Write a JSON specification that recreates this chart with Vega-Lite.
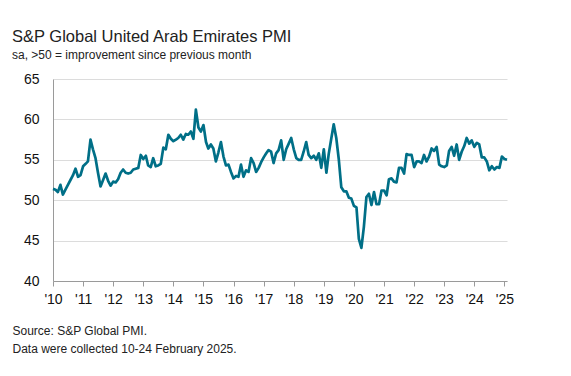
{
  "$schema": "https://vega.github.io/schema/vega-lite/v6.json",
  "autosize": "none",
  "width": 454,
  "height": 202,
  "padding": {"left": 53, "top": 79, "right": 64, "bottom": 95},
  "background": "white",
  "config": {
    "view": {"stroke": null},
    "font": "Liberation Sans",
    "title": {"anchor": "start", "frame": "group", "dx": -41, "fontSize": 16.5, "fontWeight": "normal", "color": "#222222", "subtitleFontSize": 12, "subtitleColor": "#222222", "subtitlePadding": 5, "offset": 11, "font": "Liberation Sans", "subtitleFont": "Liberation Sans"}
  },
  "title": {"text": "S&P Global United Arab Emirates PMI", "subtitle": "sa, >50 = improvement since previous month"},
  "data": {"values": [
    {"date":"2010-01-01","pmi":51.4},{"date":"2010-02-01","pmi":51.3},{"date":"2010-03-01","pmi":51.0},{"date":"2010-04-01","pmi":51.9},{"date":"2010-05-01","pmi":50.7},{"date":"2010-06-01","pmi":51.3},{"date":"2010-07-01","pmi":51.9},{"date":"2010-08-01","pmi":52.5},{"date":"2010-09-01","pmi":53.1},{"date":"2010-10-01","pmi":53.9},{"date":"2010-11-01","pmi":52.9},{"date":"2010-12-01","pmi":53.1},
    {"date":"2011-01-01","pmi":54.2},{"date":"2011-02-01","pmi":54.5},{"date":"2011-03-01","pmi":54.8},{"date":"2011-04-01","pmi":57.5},{"date":"2011-05-01","pmi":56.3},{"date":"2011-06-01","pmi":55.2},{"date":"2011-07-01","pmi":53.4},{"date":"2011-08-01","pmi":51.7},{"date":"2011-09-01","pmi":52.5},{"date":"2011-10-01","pmi":53.3},{"date":"2011-11-01","pmi":52.4},{"date":"2011-12-01","pmi":51.8},
    {"date":"2012-01-01","pmi":52.3},{"date":"2012-02-01","pmi":52.2},{"date":"2012-03-01","pmi":52.6},{"date":"2012-04-01","pmi":53.4},{"date":"2012-05-01","pmi":53.8},{"date":"2012-06-01","pmi":53.4},{"date":"2012-07-01","pmi":53.3},{"date":"2012-08-01","pmi":53.4},{"date":"2012-09-01","pmi":53.8},{"date":"2012-10-01","pmi":53.9},{"date":"2012-11-01","pmi":54.0},{"date":"2012-12-01","pmi":55.6},
    {"date":"2013-01-01","pmi":55.1},{"date":"2013-02-01","pmi":55.5},{"date":"2013-03-01","pmi":54.3},{"date":"2013-04-01","pmi":54.1},{"date":"2013-05-01","pmi":55.2},{"date":"2013-06-01","pmi":54.2},{"date":"2013-07-01","pmi":54.3},{"date":"2013-08-01","pmi":54.5},{"date":"2013-09-01","pmi":56.5},{"date":"2013-10-01","pmi":56.3},{"date":"2013-11-01","pmi":58.1},{"date":"2013-12-01","pmi":57.6},
    {"date":"2014-01-01","pmi":57.3},{"date":"2014-02-01","pmi":57.5},{"date":"2014-03-01","pmi":57.7},{"date":"2014-04-01","pmi":58.1},{"date":"2014-05-01","pmi":57.5},{"date":"2014-06-01","pmi":58.2},{"date":"2014-07-01","pmi":58.1},{"date":"2014-08-01","pmi":58.5},{"date":"2014-09-01","pmi":57.6},{"date":"2014-10-01","pmi":61.2},{"date":"2014-11-01","pmi":59.0},{"date":"2014-12-01","pmi":58.5},
    {"date":"2015-01-01","pmi":59.3},{"date":"2015-02-01","pmi":57.2},{"date":"2015-03-01","pmi":56.4},{"date":"2015-04-01","pmi":56.9},{"date":"2015-05-01","pmi":56.4},{"date":"2015-06-01","pmi":54.8},{"date":"2015-07-01","pmi":55.9},{"date":"2015-08-01","pmi":57.2},{"date":"2015-09-01","pmi":55.4},{"date":"2015-10-01","pmi":54.3},{"date":"2015-11-01","pmi":54.4},{"date":"2015-12-01","pmi":53.5},
    {"date":"2016-01-01","pmi":52.7},{"date":"2016-02-01","pmi":53.0},{"date":"2016-03-01","pmi":52.9},{"date":"2016-04-01","pmi":54.4},{"date":"2016-05-01","pmi":52.9},{"date":"2016-06-01","pmi":53.7},{"date":"2016-07-01","pmi":53.5},{"date":"2016-08-01","pmi":55.2},{"date":"2016-09-01","pmi":54.6},{"date":"2016-10-01","pmi":53.5},{"date":"2016-11-01","pmi":54.0},{"date":"2016-12-01","pmi":54.7},
    {"date":"2017-01-01","pmi":55.3},{"date":"2017-02-01","pmi":55.8},{"date":"2017-03-01","pmi":56.2},{"date":"2017-04-01","pmi":56.0},{"date":"2017-05-01","pmi":54.6},{"date":"2017-06-01","pmi":55.8},{"date":"2017-07-01","pmi":56.2},{"date":"2017-08-01","pmi":57.4},{"date":"2017-09-01","pmi":55.0},{"date":"2017-10-01","pmi":56.3},{"date":"2017-11-01","pmi":57.0},{"date":"2017-12-01","pmi":57.7},
    {"date":"2018-01-01","pmi":56.3},{"date":"2018-02-01","pmi":55.2},{"date":"2018-03-01","pmi":55.0},{"date":"2018-04-01","pmi":55.0},{"date":"2018-05-01","pmi":56.0},{"date":"2018-06-01","pmi":57.2},{"date":"2018-07-01","pmi":55.6},{"date":"2018-08-01","pmi":55.2},{"date":"2018-09-01","pmi":55.5},{"date":"2018-10-01","pmi":55.0},{"date":"2018-11-01","pmi":55.8},{"date":"2018-12-01","pmi":54.0},
    {"date":"2019-01-01","pmi":56.3},{"date":"2019-02-01","pmi":53.4},{"date":"2019-03-01","pmi":55.7},{"date":"2019-04-01","pmi":57.6},{"date":"2019-05-01","pmi":59.4},{"date":"2019-06-01","pmi":57.7},{"date":"2019-07-01","pmi":55.1},{"date":"2019-08-01","pmi":51.6},{"date":"2019-09-01","pmi":51.1},{"date":"2019-10-01","pmi":51.1},{"date":"2019-11-01","pmi":50.3},{"date":"2019-12-01","pmi":50.2},
    {"date":"2020-01-01","pmi":49.3},{"date":"2020-02-01","pmi":49.1},{"date":"2020-03-01","pmi":45.2},{"date":"2020-04-01","pmi":44.1},{"date":"2020-05-01","pmi":46.7},{"date":"2020-06-01","pmi":50.4},{"date":"2020-07-01","pmi":50.8},{"date":"2020-08-01","pmi":49.4},{"date":"2020-09-01","pmi":51.0},{"date":"2020-10-01","pmi":49.5},{"date":"2020-11-01","pmi":49.5},{"date":"2020-12-01","pmi":51.2},
    {"date":"2021-01-01","pmi":51.2},{"date":"2021-02-01","pmi":50.6},{"date":"2021-03-01","pmi":52.6},{"date":"2021-04-01","pmi":52.7},{"date":"2021-05-01","pmi":52.3},{"date":"2021-06-01","pmi":52.2},{"date":"2021-07-01","pmi":54.0},{"date":"2021-08-01","pmi":54.0},{"date":"2021-09-01","pmi":53.3},{"date":"2021-10-01","pmi":55.7},{"date":"2021-11-01","pmi":55.6},{"date":"2021-12-01","pmi":55.6},
    {"date":"2022-01-01","pmi":54.1},{"date":"2022-02-01","pmi":54.8},{"date":"2022-03-01","pmi":54.8},{"date":"2022-04-01","pmi":54.6},{"date":"2022-05-01","pmi":55.6},{"date":"2022-06-01","pmi":54.8},{"date":"2022-07-01","pmi":55.4},{"date":"2022-08-01","pmi":56.4},{"date":"2022-09-01","pmi":56.1},{"date":"2022-10-01","pmi":56.6},{"date":"2022-11-01","pmi":54.4},{"date":"2022-12-01","pmi":54.2},
    {"date":"2023-01-01","pmi":54.1},{"date":"2023-02-01","pmi":54.3},{"date":"2023-03-01","pmi":56.1},{"date":"2023-04-01","pmi":56.6},{"date":"2023-05-01","pmi":55.5},{"date":"2023-06-01","pmi":56.9},{"date":"2023-07-01","pmi":55.0},{"date":"2023-08-01","pmi":56.0},{"date":"2023-09-01","pmi":56.7},{"date":"2023-10-01","pmi":57.7},{"date":"2023-11-01","pmi":57.0},{"date":"2023-12-01","pmi":57.4},
    {"date":"2024-01-01","pmi":56.6},{"date":"2024-02-01","pmi":57.1},{"date":"2024-03-01","pmi":56.9},{"date":"2024-04-01","pmi":55.3},{"date":"2024-05-01","pmi":55.3},{"date":"2024-06-01","pmi":54.8},{"date":"2024-07-01","pmi":53.7},{"date":"2024-08-01","pmi":54.2},{"date":"2024-09-01","pmi":53.8},{"date":"2024-10-01","pmi":54.1},{"date":"2024-11-01","pmi":54.0},{"date":"2024-12-01","pmi":55.4},
    {"date":"2025-01-01","pmi":55.1},{"date":"2025-02-01","pmi":55.0}
  ]},
  "mark": {"type": "line", "color": "#006f87", "strokeWidth": 2.7, "strokeJoin": "round", "clip": false},
  "encoding": {
    "x": {
      "field": "date", "type": "temporal",
      "scale": {"type": "utc", "domain": [{"year": 2010, "month": 1, "date": 1, "utc": true}, {"year": 2025, "month": 2, "date": 1, "utc": true}]},
      "axis": {
        "values": [
          {"year": 2010, "month": 1, "date": 1, "utc": true}, {"year": 2011, "month": 1, "date": 1, "utc": true}, {"year": 2012, "month": 1, "date": 1, "utc": true}, {"year": 2013, "month": 1, "date": 1, "utc": true},
          {"year": 2014, "month": 1, "date": 1, "utc": true}, {"year": 2015, "month": 1, "date": 1, "utc": true}, {"year": 2016, "month": 1, "date": 1, "utc": true}, {"year": 2017, "month": 1, "date": 1, "utc": true},
          {"year": 2018, "month": 1, "date": 1, "utc": true}, {"year": 2019, "month": 1, "date": 1, "utc": true}, {"year": 2020, "month": 1, "date": 1, "utc": true}, {"year": 2021, "month": 1, "date": 1, "utc": true},
          {"year": 2022, "month": 1, "date": 1, "utc": true}, {"year": 2023, "month": 1, "date": 1, "utc": true}, {"year": 2024, "month": 1, "date": 1, "utc": true}, {"year": 2025, "month": 1, "date": 1, "utc": true}
        ],
        "labelExpr": "\"'\" + utcFormat(datum.value, '%y')",
        "grid": false, "domainColor": "#9a9a9a", "tickColor": "#9a9a9a", "tickSize": 5, "labelPadding": 6,
        "labelFontSize": 14, "labelColor": "#111111", "labelFont": "Liberation Sans", "labelFlush": false, "labelOverlap": false,
        "title": ["Source: S&P Global PMI.", "Data were collected 10-24 February 2025."],
        "titleFont": "Liberation Sans", "titleFontSize": 12, "titleFontWeight": "normal", "titleColor": "#222222",
        "titleAnchor": "start", "titleAlign": "left", "titleBaseline": "alphabetic", "titleX": -41, "titleY": 53, "titleLineHeight": 18
      }
    },
    "y": {
      "field": "pmi", "type": "quantitative",
      "scale": {"domain": [40, 65], "nice": false, "zero": false},
      "axis": {
        "values": [40, 45, 50, 55, 60, 65], "title": null,
        "grid": true, "gridColor": "#dcdcdc", "gridWidth": 1.2, "ticks": false,
        "domainColor": "#9a9a9a", "labelPadding": 14, "labelFontSize": 14, "labelColor": "#111111", "labelFont": "Liberation Sans"
      }
    }
  }
}
